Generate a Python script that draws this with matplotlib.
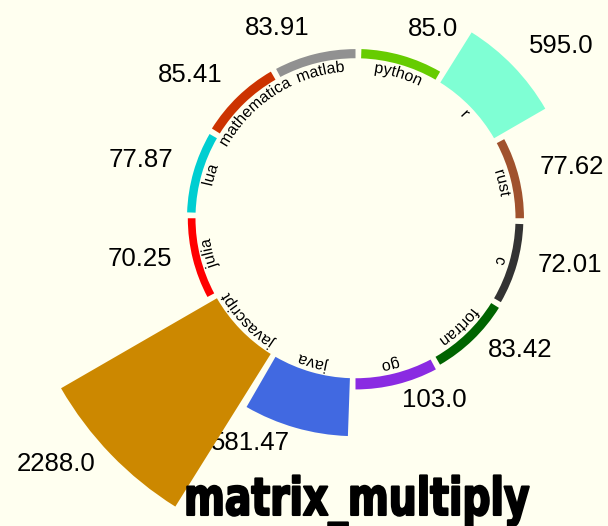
import matplotlib
matplotlib.use("Agg")
import matplotlib.pyplot as plt
import matplotlib.patheffects as pe
import numpy as np
from matplotlib.font_manager import FontProperties
from matplotlib.transforms import Affine2D

# benchmark timings per language (alphabetical, clockwise from east)
languages = ["c", "fortran", "go", "java", "javascript", "julia",
             "lua", "mathematica", "matlab", "python", "r", "rust"]
timings = [72.01, 83.42, 103.0, 581.47, 2288.0, 70.25,
           77.87, 85.41, 83.91, 85.0, 595.0, 77.62]
colors = ["#333333", "#006400", "#8a2be2", "#4169e1", "#cc8800", "#ff0000",
          "#00ced1", "#cc3300", "#919191", "#66cc00", "#7fffd4", "#a0522d"]
title = "matrix_multiply"

W, H = 608, 526
CX, CY = 355.5, H - 218.25      # centre of the ring, pixels
BOTTOM = 2500.0                  # radial offset so short bars still show
INNER_PX = 160.0                 # pixel radius of the ring
PX_PER_LOG = 277.0               # pixels per e-fold on the log radial scale
AX_R = 350.0
SECTOR, GAP, START = 30.0, 2.0, 90.0
LABEL_PAD = 21.5
NAME_PAD = 13.0

fig = plt.figure(figsize=(W / 100, H / 100), dpi=100, facecolor="ivory")
ax = fig.add_axes([(CX - AX_R) / W, (CY - AX_R) / H, 2 * AX_R / W, 2 * AX_R / H],
                  projection="polar")
ax.set_theta_zero_location("N")
ax.set_theta_direction(-1)
ax.set_rscale("log")
rmin = BOTTOM / np.exp(INNER_PX / PX_PER_LOG)
ax.set_rlim(rmin, rmin * np.exp(AX_R / PX_PER_LOG))
ax.set_axis_off()

n = len(languages)
starts = START + SECTOR * np.arange(n) + GAP
mids = starts + (SECTOR - GAP) / 2

ax.bar(np.deg2rad(starts), timings, width=np.deg2rad(SECTOR - GAP),
       bottom=BOTTOM, align="edge", color=colors, zorder=3)

# value labels outside each bar
for v, m in zip(timings, mids):
    t = np.deg2rad(m)
    side = "left" if (m % 360) < 180 else "right"
    ax.annotate(str(v), xy=(t, BOTTOM + v),
                xytext=(LABEL_PAD * np.sin(t), LABEL_PAD * np.cos(t) - 1.5),
                textcoords="offset pixels", ha=side, va="baseline",
                fontsize=18.5, family="Liberation Sans", zorder=1,
                annotation_clip=False)

# language names curved along the inside of the ring
# (drawn as paths: rotated bitmap glyphs like "j" get mangled by Agg)
renderer = fig.canvas.get_renderer()
prop = FontProperties(family="Liberation Sans", size=11.5)
r_txt = INNER_PX - NAME_PAD
for name, m in zip(languages, mids + 0.5):
    widths = [0.0] + [renderer.get_text_width_height_descent(name[:k], prop, ismath=False)[0]
                      for k in range(1, len(name) + 1)]
    total = widths[-1]
    for k, ch in enumerate(name):
        off = (widths[k] + widths[k + 1]) / 2 - total / 2
        a = m + np.degrees(off / r_txt)
        ar = np.deg2rad(a)
        ax.annotate(ch, xy=(ar, BOTTOM),
                    xytext=(-NAME_PAD * np.sin(ar), -NAME_PAD * np.cos(ar)),
                    textcoords="offset pixels", rotation=-a, rotation_mode="anchor",
                    ha="center", va="baseline", fontproperties=prop, zorder=4,
                    annotation_clip=False, path_effects=[pe.Normal()])


class Squeeze(pe.AbstractPathEffect):
    """Condense glyphs horizontally around x0 and thicken them a little."""

    def __init__(self, x0, sx, lw):
        super().__init__()
        self.x0, self.sx, self.lw = x0, sx, lw

    def draw_path(self, renderer, gc, tpath, affine, rgbFace=None):
        tr = affine + Affine2D().translate(-self.x0, 0).scale(self.sx, 1).translate(self.x0, 0)
        gc0 = renderer.new_gc()
        gc0.copy_properties(gc)
        gc0.set_linewidth(self.lw)
        gc0.set_foreground("black")
        renderer.draw_path(gc0, tpath, tr, rgbFace)
        gc0.restore()


title_prop = FontProperties(family="DejaVu Sans", weight="bold", size=37.5)
tw = renderer.get_text_width_height_descent(title, title_prop, ismath=False)[0]
tx, tb = 184, 11
fig.text(tx / W, tb / H, title, fontproperties=title_prop, ha="left", va="baseline",
         color="black", zorder=5, path_effects=[Squeeze(tx, 346 / tw, 1.5)])

fig.savefig("out.png", dpi=100, facecolor=fig.get_facecolor())
